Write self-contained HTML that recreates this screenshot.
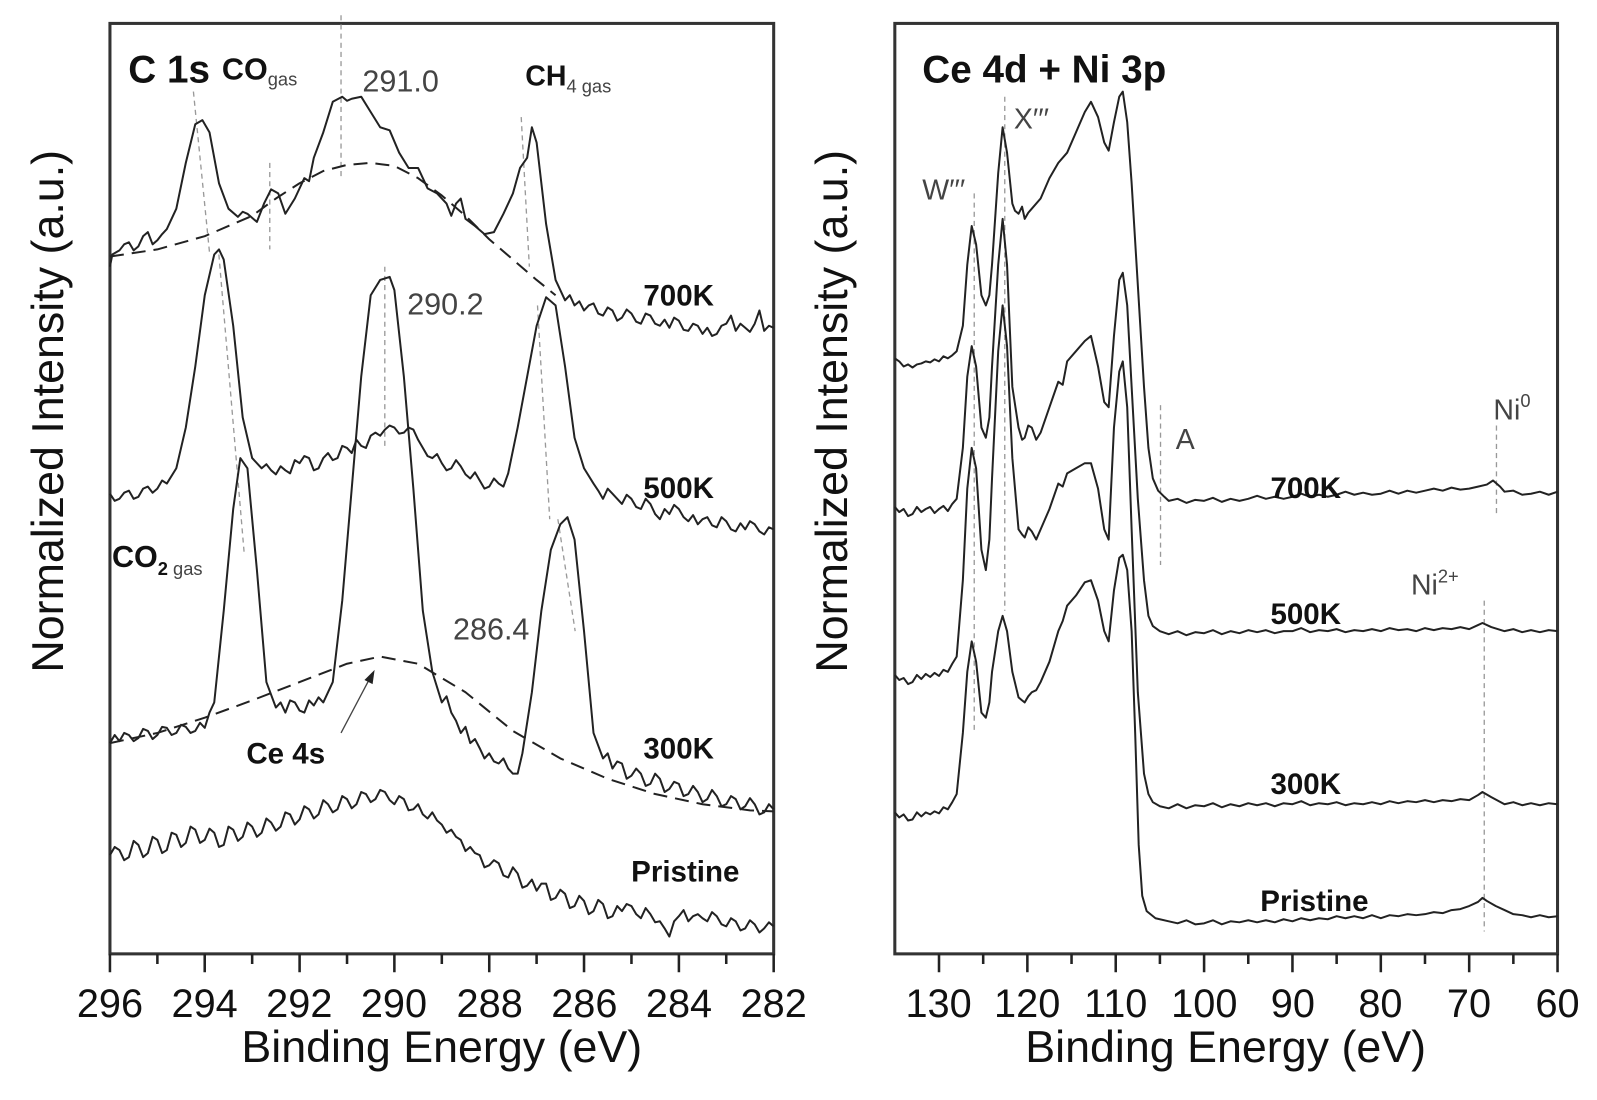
<!DOCTYPE html>
<html><head><meta charset="utf-8"><style>
html,body{margin:0;padding:0;background:#fff;}
svg{display:block;}
text{font-family:"Liberation Sans",sans-serif;}
.b{font-weight:bold;fill:#111;}
.g{fill:#444;}
.c{font-family:"Liberation Sans Narrow","Liberation Sans",sans-serif;}
</style></head><body>
<svg width="1597" height="1100" viewBox="0 0 1597 1100" xmlns="http://www.w3.org/2000/svg">
<g transform="scale(1.018)">
<!-- frames -->
<rect x="108" y="23" width="652" height="914" fill="none" stroke="#333" stroke-width="3"/>
<rect x="879" y="23" width="651" height="914" fill="none" stroke="#333" stroke-width="3"/>
<!-- left ticks -->
<g stroke="#222" stroke-width="2.5">
<path d="M108 937V955M154.6 937V947M201.1 937V955M247.7 937V947M294.3 937V955M340.9 937V947M387.4 937V955M434 937V947M480.6 937V955M527.1 937V947M573.7 937V955M620.3 937V947M666.9 937V955M713.4 937V947M760 937V955"/>
<path d="M922.4 937V955M965.8 937V947M1009.2 937V955M1052.6 937V947M1096 937V955M1139.4 937V947M1182.8 937V955M1226.2 937V947M1269.6 937V955M1313 937V947M1356.4 937V955M1399.8 937V947M1443.2 937V955M1486.6 937V947M1530 937V955"/>
</g>
<g font-size="39" text-anchor="middle" fill="#111">
<text x="108" y="999">296</text><text x="201" y="999">294</text><text x="294" y="999">292</text><text x="387" y="999">290</text><text x="481" y="999">288</text><text x="574" y="999">286</text><text x="667" y="999">284</text><text x="760" y="999">282</text>
<text x="922" y="999">130</text><text x="1009" y="999">120</text><text x="1096" y="999">110</text><text x="1183" y="999">100</text><text x="1270" y="999">90</text><text x="1356" y="999">80</text><text x="1443" y="999">70</text><text x="1530" y="999">60</text>
</g>
<g font-size="44" text-anchor="middle" fill="#111">
<text x="434" y="1043">Binding Energy (eV)</text>
<text x="1204" y="1043">Binding Energy (eV)</text>
<text transform="translate(62,404) rotate(-90)">Normalized Intensity (a.u.)</text>
<text transform="translate(832,404) rotate(-90)">Normalized Intensity (a.u.)</text>
</g>

<!-- guide dashed lines -->
<g stroke="#999" stroke-width="1.3" stroke-dasharray="5,4" fill="none">
<path d="M190 90L206 250M215 250L240 545M265 160V245M335 15V175M378 262V440M512 115L520 262M528 300L540 510M548 510L565 620"/>
<path d="M957 190V720M987 95V600M1140 398V555M1470 418V505M1458 590V915"/>
</g>

<!-- left data -->
<g transform="matrix(-46.57 0 0 1 13892.72 0)" fill="none" stroke="#222" stroke-width="2" stroke-linejoin="round">
<path vector-effect="non-scaling-stroke" d="M296 262L295.95 250L295.8 246L295.7 240L295.6 238L295.5 246L295.4 242L295.3 232L295.2 228L295.1 240L295.0 236L294.9 230L294.8 225L294.6 205L294.4 160L294.2 122L294.05 118L293.9 130L293.7 180L293.5 205L293.3 213L293.2 208L293.1 210L292.9 218L292.75 200L292.6 186L292.45 190L292.3 210L292.1 195L291.9 175L291.8 178L291.7 155L291.5 130L291.3 100L291.1 95L291 99L290.9 97L290.7 95L290.5 110L290.3 125L290.1 128L289.9 150L289.7 165L289.5 165L289.3 185L289.1 190L288.9 200L288.8 212L288.7 200L288.6 195L288.5 215L288.3 222L288.1 230L287.9 228L287.7 210L287.5 190L287.35 165L287.2 155L287.1 125L287.0 140L286.8 220L286.6 275L286.4 295L286.3 290L286.2 300L286.1 296L286.0 305L285.9 300L285.8 298L285.7 308L285.6 310L285.5 302L285.4 305L285.3 315L285.2 312L285.1 304L285.0 308L284.9 316L284.8 318L284.7 308L284.6 310L284.5 318L284.4 320L284.3 314L284.2 322L284.1 312L284.0 315L283.9 324L283.8 325L283.7 318L283.6 320L283.5 328L283.4 322L283.3 330L283.2 328L283.1 320L283.0 318L282.9 310L282.8 325L282.7 318L282.6 322L282.5 326L282.4 318L282.3 305L282.2 325L282.1 320L282.0 322"/>
<path vector-effect="non-scaling-stroke" stroke-dasharray="14,8" d="M296 252L295 245L294 232L293 212L292.5 195L292 180L291.5 168L291 162L290.5 160L290 163L289.5 175L289 192L288.5 212L288 235L287.5 255L287 275L286.6 290"/>
<path vector-effect="non-scaling-stroke" d="M296 485L295.9 492L295.8 490L295.7 484L295.6 482L295.5 490L295.4 488L295.3 480L295.2 478L295.1 484L295.0 480L294.9 472L294.8 475L294.6 460L294.4 420L294.2 360L294.0 290L293.8 250L293.7 245L293.6 255L293.4 320L293.2 410L293.0 450L292.8 460L292.7 456L292.6 462L292.5 466L292.4 458L292.3 462L292.2 465L292.1 452L292.0 455L291.9 448L291.8 450L291.7 462L291.6 460L291.5 450L291.4 445L291.3 452L291.2 450L291.1 438L291.0 440L290.9 445L290.8 432L290.7 438L290.6 440L290.5 428L290.4 425L290.3 428L290.2 422L290.1 418L290.0 420L289.9 426L289.8 425L289.7 420L289.6 422L289.5 432L289.4 440L289.3 448L289.2 450L289.1 446L289.0 455L288.9 462L288.8 460L288.7 452L288.6 458L288.5 466L288.4 470L288.3 464L288.2 472L288.1 480L288.0 478L287.9 470L287.8 475L287.7 478L287.6 465L287.4 420L287.2 370L287.0 320L286.8 292L286.6 300L286.4 360L286.2 430L286.0 460L285.8 475L285.7 482L285.6 490L285.5 480L285.4 485L285.3 490L285.2 495L285.1 486L285.0 490L284.9 498L284.8 500L284.7 490L284.6 495L284.5 505L284.4 510L284.3 500L284.2 505L284.1 496L284.0 500L283.9 508L283.8 512L283.7 506L283.6 515L283.5 510L283.4 508L283.3 516L283.2 518L283.1 508L283.0 512L282.9 520L282.8 522L282.7 514L282.6 520L282.5 512L282.4 515L282.3 522L282.2 525L282.1 518L282.0 520"/>
<path vector-effect="non-scaling-stroke" d="M296 730L295.9 722L295.8 728L295.7 720L295.6 722L295.5 728L295.4 725L295.3 716L295.2 718L295.1 726L295.0 722L294.9 714L294.8 715L294.7 722L294.6 720L294.5 712L294.4 714L294.3 720L294.2 718L294.1 710L294.0 715L293.9 700L293.8 690L293.6 600L293.4 500L293.25 450L293.1 460L292.9 560L292.7 670L292.5 695L292.4 690L292.3 700L292.2 688L292.1 690L292.0 698L291.9 700L291.8 688L291.7 693L291.6 685L291.5 690L291.3 670L291.1 590L290.9 480L290.7 370L290.5 290L290.3 275L290.1 272L290.0 285L289.8 370L289.6 480L289.4 600L289.2 660L289.0 690L288.9 684L288.8 700L288.7 708L288.6 720L288.5 714L288.4 730L288.3 726L288.2 735L288.1 745L288.0 740L287.9 748L287.8 750L287.7 745L287.6 755L287.5 760L287.4 760L287.3 740L287.1 680L286.9 600L286.7 540L286.5 515L286.35 508L286.2 530L286.0 620L285.8 720L285.6 745L285.5 740L285.4 755L285.3 748L285.2 750L285.1 765L285.0 762L284.9 755L284.8 760L284.7 772L284.6 770L284.5 760L284.4 765L284.3 778L284.2 775L284.1 768L284.0 770L283.9 782L283.8 780L283.7 772L283.6 778L283.5 788L283.4 785L283.3 776L283.2 782L283.1 792L283.0 790L282.9 782L282.8 785L282.7 795L282.6 792L282.5 784L282.4 790L282.3 800L282.2 798L282.1 790L282.0 795"/>
<path vector-effect="non-scaling-stroke" stroke-dasharray="14,8" d="M296 730L295 720L294 705L293 688L292 670L291 652L290.3 645L289.5 652L288.5 680L287.5 718L286.5 745L285.5 765L284.5 780L283.5 790L282.5 796L282 797"/>
<path vector-effect="non-scaling-stroke" d="M296 840L295.9 832L295.8 835L295.7 845L295.6 842L295.5 826L295.4 830L295.3 842L295.2 838L295.1 822L295.0 825L294.9 838L294.8 835L294.7 818L294.6 820L294.5 832L294.4 828L294.3 812L294.2 815L294.1 828L294.0 825L293.9 814L293.8 818L293.7 832L293.6 830L293.5 812L293.4 815L293.3 826L293.2 822L293.1 808L293.0 812L292.9 822L292.8 818L292.7 804L292.6 808L292.5 816L292.4 812L292.3 798L292.2 800L292.1 810L292.0 805L291.9 792L291.8 795L291.7 804L291.6 800L291.5 786L291.4 790L291.3 798L291.2 795L291.1 782L291.0 785L290.9 794L290.8 790L290.7 778L290.6 780L290.5 788L290.4 785L290.3 776L290.2 778L290.1 786L290.0 790L289.9 782L289.8 785L289.7 796L289.6 795L289.5 790L289.4 800L289.3 804L289.2 798L289.1 806L289.0 810L288.9 818L288.8 815L288.7 822L288.6 825L288.5 836L288.4 832L288.3 838L288.2 840L288.1 852L288.0 850L287.9 845L287.8 848L287.7 860L287.6 862L287.5 852L287.4 858L287.3 872L287.2 870L287.1 864L287.0 875L286.9 868L286.8 868L286.7 884L286.6 882L286.5 874L286.4 878L286.3 892L286.2 890L286.1 880L286.0 885L285.9 898L285.8 895L285.7 884L285.6 888L285.5 902L285.4 900L285.3 890L285.2 895L285.1 888L285.0 890L284.9 898L284.8 902L284.7 892L284.6 898L284.5 906L284.4 905L284.3 912L284.2 920L284.1 905L284.0 900L283.9 894L283.8 905L283.7 900L283.6 898L283.5 902L283.4 905L283.3 896L283.2 900L283.1 908L283.0 910L282.9 902L282.8 905L282.7 914L282.6 912L282.5 904L282.4 908L282.3 916L282.2 912L282.1 906L282.0 910"/>
</g>

<!-- right data -->
<g transform="matrix(-8.68 0 0 1 2050.8 0)" fill="none" stroke="#222" stroke-width="2" stroke-linejoin="round">
<path vector-effect="non-scaling-stroke" d="M135 352L134.5 355L134 360L133.5 358L133 361L132.5 358L132 357L131.5 355L131 356L130.5 353L130 355L129.5 350L129 352L128.5 349L128 345L127.3 320L126.8 260L126.3 222L125.8 240L125.2 290L124.7 300L124.3 290L124 260L123.3 170L122.8 125L122.3 150L121.7 200L121.4 207L121 210L120.6 203L120.3 215L119.9 209L119.5 205L118.5 195L117.5 175L116.5 160L115.5 150L114.5 130L113.5 110L112.8 100L112 115L111.3 140L110.8 148L110.2 120L109.6 95L109.2 90L108.7 120L108.2 180L107.5 280L106.8 380L106.3 440L105.8 470L105.2 482L104.5 488L104 492L103 490L102 494L101 491L100 492L99 489L98 493L97 490L96 492L95 490L94 487L93 490L92 488L91 490L90 488L89 485L88 488L87 486L86 488L85 486L84 483L83 486L82 484L81 486L80 485L79 482L78 485L77 482L76 484L75 482L74 480L73 482L72 479L71 481L70 480L69 478L68 476L67.3 472L66.5 478L66 483L65 482L64 486L63 485L62 483L61 486L60 483"/>
<path vector-effect="non-scaling-stroke" d="M135 498L134.5 503L134 500L133.5 507L133 505L132.5 498L132 503L131.5 500L131 498L130.5 504L130 500L129.5 497L129 502L128.5 495L128 490L127.3 440L126.8 370L126.3 340L125.8 360L125.2 420L124.7 430L124.3 410L124 360L123.3 260L122.8 215L122.3 260L121.7 380L121 420L120.6 432L120.3 430L119.9 418L119.5 420L119 432L118.5 425L117.5 400L116.5 375L116 378L115.5 355L114.5 345L113.5 335L112.8 330L112 360L111.3 395L110.8 400L110.2 330L109.6 275L109.2 268L108.7 300L108.2 380L107.5 490L106.8 570L106.3 605L105.8 615L105 620L104 623L103 620L102 624L101 621L100 622L99 619L98 623L97 620L96 622L95 619L94 621L93 619L92 622L91 620L90 620L89 617L88 621L87 619L86 620L85 618L84 621L83 619L82 620L81 618L80 620L79 617L78 619L77 618L76 620L75 617L74 619L73 617L72 618L71 616L70 618L69 614L68.5 612L67.5 616L66 620L65 618L64 621L63 619L62 621L61 619L60 620"/>
<path vector-effect="non-scaling-stroke" d="M135 663L134.5 668L134 666L133.5 672L133 670L132.5 663L132 667L131.5 662L131 665L130.5 661L130 664L129.5 658L129 660L128.5 652L128 645L127.3 570L126.8 480L126.3 440L125.8 460L125.2 540L124.7 560L124.3 530L124 470L123.3 345L122.8 300L122.3 340L121.7 450L121 520L120.6 525L120.3 528L119.9 518L119.5 522L119 530L118.5 520L117.5 500L116.5 475L116 478L115.5 465L114.5 460L113.5 455L112.8 455L112 480L111.3 520L110.8 530L110.2 420L109.6 365L109.2 355L108.7 400L108.2 520L107.5 680L106.8 760L106.3 780L105.8 788L105 792L104 794L103 790L102 794L101 791L100 792L99 789L98 793L97 790L96 792L95 789L94 791L93 789L92 792L91 789L90 790L89 787L88 791L87 789L86 790L85 788L84 791L83 789L82 790L81 788L80 790L79 787L78 789L77 787L76 788L75 786L74 788L73 786L72 787L71 785L70 786L69 781L68.5 778L67.5 783L66 790L65 788L64 791L63 789L62 791L61 789L60 790"/>
<path vector-effect="non-scaling-stroke" d="M135 798L134.5 803L134 800L133.5 806L133 805L132.5 798L132 802L131.5 798L131 800L130.5 797L130 799L129.5 793L129 795L128.5 788L128 780L127.3 720L126.8 660L126.3 630L125.8 650L125.2 700L124.7 705L124.3 690L124 660L123.3 620L122.8 605L122.3 620L121.7 660L121 685L120.6 688L120.3 690L119.9 684L119.5 680L119 678L118.5 670L117.5 650L116.5 620L116 610L115.5 595L114.5 585L113.5 572L112.8 570L112 590L111.3 620L110.8 630L110.2 580L109.6 548L109.2 545L108.7 560L108.2 620L107.8 720L107.4 830L107 880L106.5 895L105.5 902L104 905L103 907L102 904L101 908L100 907L99 904L98 908L97 905L96 906L95 904L94 906L93 904L92 906L91 903L90 905L89 902L88 904L87 902L86 903L85 900L84 902L83 900L82 902L81 899L80 902L79 899L78 900L77 898L76 899L75 898L74 896L73 897L72 894L71 893L70 890L69 886L68.5 882L68 885L67 890L66 894L65 898L64 899L63 901L62 899L61 901L60 900"/>
</g>

<!-- left labels -->
<text x="126" y="81" class="b" font-size="38">C 1s</text>
<text x="218" y="78" class="b c" font-size="30">CO</text>
<text x="263" y="84" class="g c" font-size="18">gas</text>
<text x="356" y="90" class="g" font-size="30">291.0</text>
<text x="516" y="84" class="b c" font-size="28">CH<tspan font-size="18" dy="7" font-weight="normal" fill="#444">4 gas</tspan></text>
<text x="632" y="300" class="b c" font-size="29">700K</text>
<text x="400" y="309" class="g" font-size="30">290.2</text>
<text x="632" y="489" class="b c" font-size="29">500K</text>
<text x="110" y="557" class="b c" font-size="30">CO<tspan font-size="18" dy="8">2 </tspan><tspan font-size="18" font-weight="normal" fill="#444">gas</tspan></text>
<text x="445" y="628" class="g" font-size="30">286.4</text>
<text x="632" y="745" class="b c" font-size="29">300K</text>
<text x="242" y="750" class="b c" font-size="29">Ce 4s</text>
<path d="M335 720L364 665" stroke="#444" stroke-width="1.3"/>
<path d="M368 658L358 668L366 672Z" fill="#222"/>
<text x="620" y="866" class="b c" font-size="29">Pristine</text>

<!-- right labels -->
<text x="906" y="81" class="b" font-size="38">Ce 4d + Ni 3p</text>
<text x="996" y="126" class="g" font-size="28">X′′′</text>
<text x="906" y="196" class="g" font-size="28">W′′′</text>
<text x="1155" y="441" class="g" font-size="28">A</text>
<text x="1467" y="412" class="g" font-size="28">Ni<tspan font-size="18" dy="-12">0</tspan></text>
<text x="1248" y="489" class="b c" font-size="29">700K</text>
<text x="1386" y="584" class="g" font-size="28">Ni<tspan font-size="18" dy="-12">2+</tspan></text>
<text x="1248" y="613" class="b c" font-size="29">500K</text>
<text x="1248" y="780" class="b c" font-size="29">300K</text>
<text x="1238" y="895" class="b c" font-size="29">Pristine</text>
</g>
</svg>
</body></html>
